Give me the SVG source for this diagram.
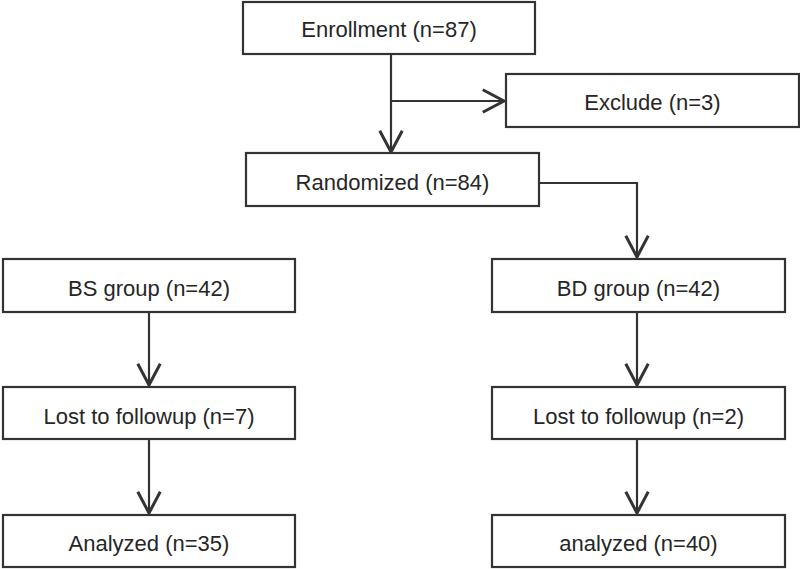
<svg xmlns="http://www.w3.org/2000/svg" width="800" height="569" viewBox="0 0 800 569">
<style>
.box{fill:#fff;stroke:#333;stroke-width:2.2}
.lbl{font-family:"Liberation Sans",Arial,sans-serif;font-size:22px;fill:#262626;text-anchor:middle}
.edge{fill:none;stroke:#333;stroke-width:2.2;marker-end:url(#arr)}
</style>
<defs>
<marker id="arr" markerUnits="userSpaceOnUse" markerWidth="30" markerHeight="30" viewBox="-20 -12 24 24" refX="0" refY="0" orient="auto">
<path d="M-17,-9 L0,0 L-17,9" fill="none" stroke="#333" stroke-width="2.4"/>
</marker>
</defs>
<rect width="800" height="569" fill="#fff"/>
<g id="connectors">
<path class="edge" d="M391,54 L391,152"/>
<path class="edge" d="M391,101 L504,101"/>
<path class="edge" d="M539,183 L637,183 L637,257"/>
<path class="edge" d="M149,312 L149,385"/>
<path class="edge" d="M149,439 L149,513"/>
<path class="edge" d="M637,312 L637,385"/>
<path class="edge" d="M637,439 L637,513"/>
</g>
<g id="enrollment"><rect class="box" x="243" y="2" width="292" height="52"/><text class="lbl" x="389" y="37">Enrollment (n=87)</text></g>
<g id="exclude"><rect class="box" x="506" y="74" width="293" height="53"/><text class="lbl" x="652.5" y="110">Exclude (n=3)</text></g>
<g id="randomized"><rect class="box" x="246" y="153" width="293" height="53"/><text class="lbl" x="392.5" y="189.5">Randomized (n=84)</text></g>
<g id="bs-group"><rect class="box" x="3" y="259" width="292" height="53"/><text class="lbl" x="149" y="296">BS group (n=42)</text></g>
<g id="bd-group"><rect class="box" x="492" y="259" width="293" height="53"/><text class="lbl" x="638.5" y="296">BD group (n=42)</text></g>
<g id="bs-lost"><rect class="box" x="3" y="387" width="292" height="52"/><text class="lbl" x="149" y="423.5">Lost to followup (n=7)</text></g>
<g id="bd-lost"><rect class="box" x="492" y="387" width="293" height="52"/><text class="lbl" x="638.5" y="423.5">Lost to followup (n=2)</text></g>
<g id="bs-analyzed"><rect class="box" x="3" y="515" width="292" height="52"/><text class="lbl" x="149" y="551">Analyzed (n=35)</text></g>
<g id="bd-analyzed"><rect class="box" x="492" y="515" width="293" height="52"/><text class="lbl" x="638.5" y="551">analyzed (n=40)</text></g>
</svg>
